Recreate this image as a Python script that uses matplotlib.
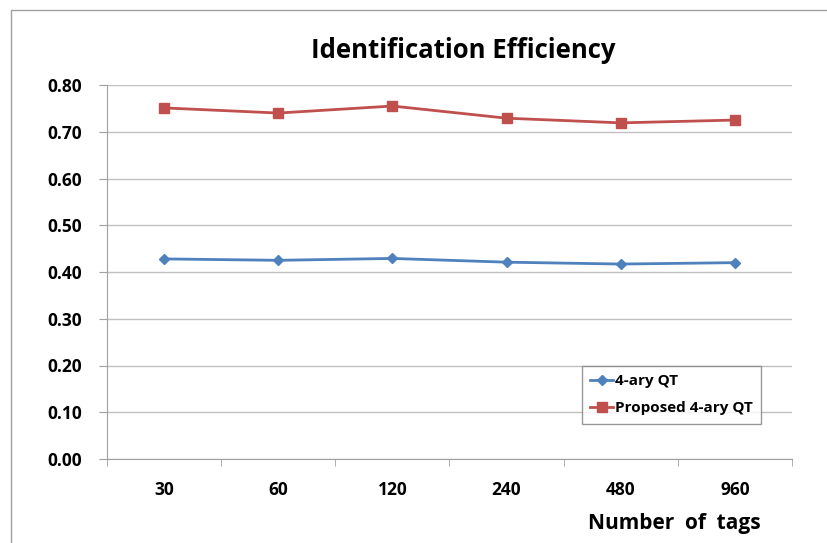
import matplotlib
matplotlib.use("Agg")
import matplotlib.pyplot as plt
from matplotlib.patches import Rectangle

tags = ["30", "60", "120", "240", "480", "960"]
qt4 = [0.428, 0.425, 0.429, 0.421, 0.417, 0.420]
proposed = [0.751, 0.740, 0.755, 0.729, 0.719, 0.725]

plt.rcParams['font.family'] = ['Open Sans', 'DejaVu Sans']
plt.rcParams['font.weight'] = 'bold'

fig = plt.figure(figsize=(8.28, 5.43), dpi=100)
ax = fig.add_axes([107/828, 1-459/543, (792-107)/828, (459-85)/543])

# outer chart frame
fig.patches.append(Rectangle((11/828, -0.1), 1.2, 1-10/543+0.1, transform=fig.transFigure,
                             fill=False, edgecolor="#a0a0a0", linewidth=1))

x = range(len(tags))
ax.plot(x, qt4, color="#4f81bd", marker="D", markersize=5, linewidth=2, label="4-ary QT")
ax.plot(x, proposed, color="#c0504d", marker="s", markersize=7, linewidth=2, label="Proposed 4-ary QT")

ax.set_xlim(-0.5, len(tags) - 0.5)
ax.set_ylim(0, 0.8)
ax.set_yticks([i / 10 for i in range(9)])
ax.set_yticklabels(["%.2f" % (i / 10) for i in range(9)], fontsize=12.5, fontweight="bold")
ax.set_xticks(list(x))
ax.set_xticklabels(tags, fontsize=12.5, fontweight="bold")
ax.set_xticks([i + 0.5 for i in range(-1, len(tags))], minor=True)
ax.tick_params(axis="x", which="major", length=0, pad=16)
ax.tick_params(axis="x", which="minor", length=5, color="#a0a0a0", direction="out")
ax.tick_params(axis="y", length=6, color="#a0a0a0", pad=12)

ax.grid(axis="y", color="#c0c0c0", linewidth=1)
ax.set_axisbelow(True)
for side in ["top", "right"]:
    ax.spines[side].set_visible(False)
ax.spines["left"].set_color("#a0a0a0")
ax.spines["bottom"].set_color("#a0a0a0")

fig.text(463/828, 1-50/543, "Identification Efficiency", ha="center", va="center",
         fontsize=18.5, fontweight="bold")
fig.text(674/828, 1-523/543, "Number  of  tags", ha="center", va="center",
         fontsize=15, fontweight="bold")

leg = ax.legend(loc="upper left", bbox_to_anchor=((582-107)/685, (459-366)/374),
                fontsize=11, frameon=True, fancybox=False, handlelength=1.5,
                borderpad=0.55, labelspacing=0.85, handletextpad=0.1, borderaxespad=0)
leg.get_frame().set_edgecolor("#808080")
leg.get_frame().set_linewidth(1)
for t in leg.get_texts():
    t.set_fontweight("bold")

fig.savefig("out.png", dpi=100)
